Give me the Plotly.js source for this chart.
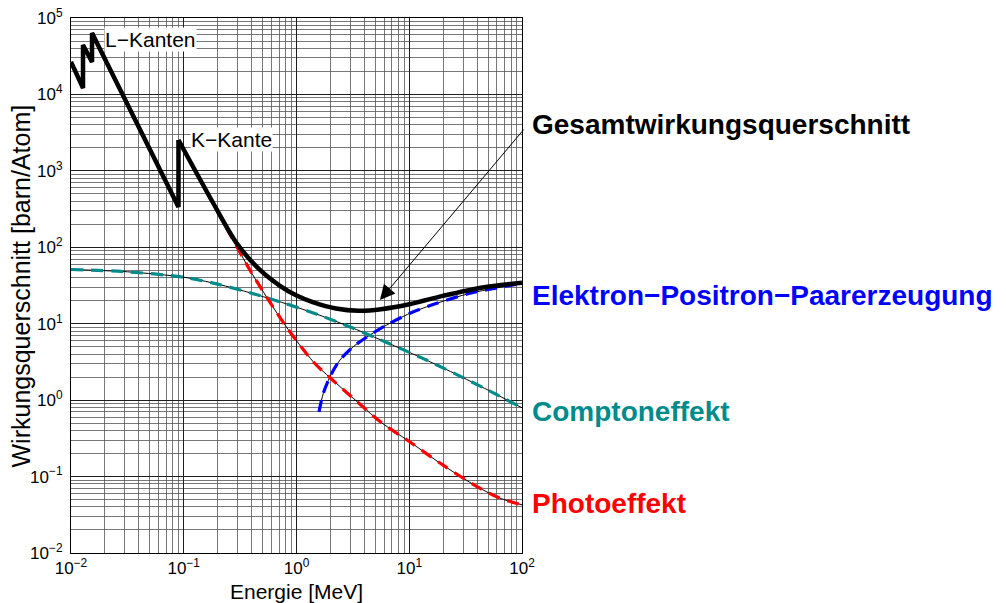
<!DOCTYPE html>
<html>
<head>
<meta charset="utf-8">
<script src="https://cdn.plot.ly/plotly-3.0.1.min.js"></script>
<style>
  html, body { margin: 0; padding: 0; background: #fff; }
  #chart { width: 1006px; height: 603px; }
</style>
</head>
<body>
<div id="chart"></div>
<script>
// Photon cross sections (lead-like absorber), energies in MeV, cross sections in barn/atom

// Total cross section, with the L- and K-absorption edges
const totalEnergy = [0.01, 0.01278, 0.01278, 0.01536, 0.01536, 0.0898, 0.0898, 0.1828, 0.2951, 0.4742, 0.7079, 1.0, 1.413, 2.239, 3.548, 5.623, 10, 19.95, 44.67, 100];
const totalSigma  = [26570, 12140, 44330, 26570, 63640, 336.6, 2534, 376.7, 112.7, 50.5, 31.6, 23.4, 19.05, 15.85, 14.79, 15.49, 17.99, 23.17, 29.85, 34.28];

// Photoelectric effect
const photoEnergy = [0.01, 0.01278, 0.01278, 0.01536, 0.01536, 0.0898, 0.0898, 0.1995, 0.398, 0.794, 1.413, 1.995, 3.162, 5.623, 10, 19.95, 39.81, 63.1, 100];
const photoSigma  = [26570, 12140, 44330, 26570, 63640, 336.6, 2534, 295, 46.8, 9.55, 3.16, 1.95, 1.07, 0.513, 0.288, 0.141, 0.0741, 0.0525, 0.0427];

// Compton scattering
const comptonEnergy = [0.01, 0.0316, 0.1, 0.1995, 0.398, 0.794, 1.585, 3.162, 6.31, 12.59, 25.12, 50.12, 100];
const comptonSigma  = [51.2, 47.8, 40.6, 33.0, 25.1, 18.4, 13.0, 8.77, 5.68, 3.63, 2.24, 1.35, 0.794];

// Electron-positron pair production
const pairEnergy = [1.583, 1.729, 1.982, 2.431, 3.190, 4.486, 6.31, 10.15, 17.52, 34.57, 68.28, 100];
const pairSigma  = [0.70, 1.229, 2.027, 3.352, 5.004, 7.12, 9.62, 13.69, 18.5, 25.0, 30.5, 33.8];

// Axis ticks
const xTickVals = [0.01, 0.1, 1, 10, 100];
const xTickText = ['10<sup>\u22122</sup>', '10<sup>\u22121</sup>', '10<sup>0</sup>', '10<sup>1</sup>', '10<sup>2</sup>'];
const yTickVals = [0.01, 0.1, 1, 10, 100, 1000, 10000, 100000];
const yTickText = ['10<sup>\u22122</sup>', '10<sup>\u22121</sup>', '10<sup>0</sup>', '10<sup>1</sup>', '10<sup>2</sup>', '10<sup>3</sup>', '10<sup>4</sup>', '10<sup>5</sup>'];

const RED = '#ff0000', BLUE = '#0000ff', TEAL = '#008b8b';
const EDGE_END = 6; // last index of the edge section (straight segments)

function thinLine(x, y, shape) {
  return { x, y, type: 'scatter', mode: 'lines', hoverinfo: 'skip', showlegend: false,
           line: { color: '#000', width: 1, shape: shape || 'linear', smoothing: 0.8 } };
}
function dashed(x, y, color, shape) {
  return { x, y, type: 'scatter', mode: 'lines', showlegend: false,
           line: { color, width: 3.2, dash: '12px,8px', shape: shape || 'linear', smoothing: 0.8 } };
}

const traces = [
  // thin underlying curves
  thinLine(comptonEnergy, comptonSigma, 'spline'),
  thinLine(photoEnergy.slice(EDGE_END), photoSigma.slice(EDGE_END), 'spline'),
  thinLine(pairEnergy, pairSigma, 'spline'),
  // partial cross sections
  dashed(comptonEnergy, comptonSigma, TEAL, 'spline'),
  dashed(photoEnergy.slice(0, EDGE_END + 1), photoSigma.slice(0, EDGE_END + 1), RED),
  dashed(photoEnergy.slice(EDGE_END), photoSigma.slice(EDGE_END), RED, 'spline'),
  dashed(pairEnergy, pairSigma, BLUE, 'spline'),
  // total cross section
  { x: totalEnergy.slice(0, EDGE_END + 1), y: totalSigma.slice(0, EDGE_END + 1), type: 'scatter', mode: 'lines',
    showlegend: false, line: { color: '#000', width: 4.5, shape: 'linear' } },
  { x: totalEnergy.slice(EDGE_END), y: totalSigma.slice(EDGE_END), type: 'scatter', mode: 'lines',
    showlegend: false, line: { color: '#000', width: 4.5, shape: 'spline', smoothing: 0.8 } }
];

const FONT = 'Liberation Sans, Arial, Helvetica, sans-serif';

function sideLabel(text, y, color) {
  return { xref: 'paper', yref: 'paper', x: 1.0177, y, xanchor: 'left', yanchor: 'middle',
           text: '<b>' + text + '</b>', showarrow: false,
           font: { family: FONT, size: 28, color } };
}

const layout = {
  width: 1006, height: 603, autosize: false,
  margin: { l: 71, r: 484, t: 18, b: 50 },
  paper_bgcolor: '#fff', plot_bgcolor: '#fff',
  font: { family: FONT, color: '#000' },
  showlegend: false,
  xaxis: {
    type: 'log', range: [-2, 2], automargin: false,
    tickvals: xTickVals, ticktext: xTickText, ticks: '',
    tickfont: { size: 17, color: '#000' },
    showgrid: true, gridcolor: '#1e1e1e', gridwidth: 1,
    minor: { dtick: 'D1', showgrid: true, gridcolor: '#555', gridwidth: 0.8, ticks: '' },
    showline: true, mirror: true, linecolor: '#000', linewidth: 1, zeroline: false,
    title: { text: 'Energie [MeV]', font: { size: 21, color: '#000' }, standoff: 6 }
  },
  yaxis: {
    type: 'log', range: [-2, 5], automargin: false,
    tickvals: yTickVals, ticktext: yTickText, ticks: '', ticklabelstandoff: 4,
    tickfont: { size: 17, color: '#000' },
    showgrid: true, gridcolor: '#1e1e1e', gridwidth: 1,
    minor: { dtick: 'D1', showgrid: true, gridcolor: '#555', gridwidth: 0.8, ticks: '' },
    showline: true, mirror: true, linecolor: '#000', linewidth: 1, zeroline: false
  },
  annotations: [
    // y axis title
    { xref: 'paper', yref: 'paper', x: -0.1109, y: 0.5, xanchor: 'center', yanchor: 'middle',
      textangle: -90, text: 'Wirkungsquerschnitt [barn/Atom]', showarrow: false,
      font: { family: FONT, size: 25, color: '#000' } },
    // edge labels
    { xref: 'x', yref: 'y', x: Math.log10(0.01963), y: Math.log10(53120), xanchor: 'left', yanchor: 'middle',
      text: 'L\u2212Kanten', showarrow: false, bgcolor: '#fff', borderpad: 0,
      font: { family: FONT, size: 21, color: '#000' } },
    { xref: 'x', yref: 'y', x: Math.log10(0.1136), y: Math.log10(2534), xanchor: 'left', yanchor: 'middle',
      text: 'K\u2212Kante', showarrow: false, bgcolor: '#fff', borderpad: 0,
      font: { family: FONT, size: 21, color: '#000' } },
    // arrow pointing to the total cross section
    { xref: 'x', yref: 'y', x: Math.log10(5.50), y: Math.log10(20.4), ax: 145, ay: -172,
      text: '', showarrow: true, arrowhead: 2, arrowsize: 3, arrowwidth: 1, arrowcolor: '#000' },
    sideLabel('Gesamtwirkungsquerschnitt', 0.800, '#000'),
    sideLabel('Elektron\u2212Positron\u2212Paarerzeugung', 0.4822, BLUE),
    sideLabel('Comptoneffekt', 0.2636, TEAL),
    sideLabel('Photoeffekt', 0.0925, RED)
  ]
};

Plotly.newPlot('chart', traces, layout, { displayModeBar: false, staticPlot: true });
</script>
</body>
</html>
